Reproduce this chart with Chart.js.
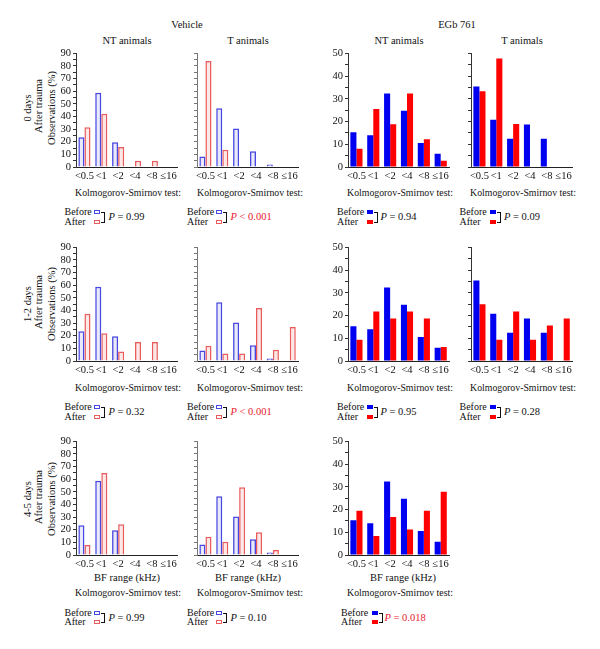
<!DOCTYPE html>
<html>
<head>
<meta charset="utf-8">
<script src="https://cdn.jsdelivr.net/npm/chart.js@4"></script>
<style>
  body { margin: 0; background: #fff; }
  #wrap { position: relative; width: 600px; height: 649px; overflow: hidden; font-family: "Liberation Serif", serif; color: #111; }
  .t { position: absolute; white-space: nowrap; font-size: 10.5px; line-height: 1; transform: translate(-50%, -50%); }
  .ks { font-size: 9.8px; }
  .v { transform: translate(-50%, -50%) rotate(-90deg); font-size: 10.5px; }
  .l { position: absolute; white-space: nowrap; font-size: 10px; line-height: 1; transform: translateY(-50%); }
  .box { position: absolute; width: 6px; height: 4px; box-sizing: border-box; }
  .brk { position: absolute; width: 3px; border: 1px solid #111; border-left: none; }
  canvas { position: absolute; }
</style>
</head>
<body>
<div id="wrap"></div>
<script>
// bins of best frequency
var bins = ['<0.5', '<1', '<2', '<4', '<8', '\u226416'];

// Vehicle, NT animals (% of observations)
var vehNtBefore  = [23.5, 58.8, 19.6, 0, 0, 0];
var vehNtAfter0  = [31.5, 42.2, 15.8, 5, 5, 0];
var vehNtAfter12 = [37.5, 22, 7.5, 15, 15, 0];
var vehNtAfter45 = [8, 65, 24.4, 0, 0, 0];

// Vehicle, T animals
var vehTBefore  = [8.3, 46.5, 30.5, 12.5, 2, 0];
var vehTAfter0  = [84, 13.7, 0, 0, 0, 0];
var vehTAfter12 = [12, 6, 6, 42, 9, 27];
var vehTAfter45 = [14.4, 10.5, 53.7, 18, 3.9, 0];

// EGb 761, NT animals
var egbNtBefore  = [15.3, 14, 32.3, 24.7, 10.5, 5.8];
var egbNtAfter0  = [8, 25.5, 18.8, 32.3, 12.2, 2.7];
var egbNtAfter12 = [9.3, 21.8, 18.7, 21.8, 18.7, 6.2];
var egbNtAfter45 = [19.5, 8.4, 16.7, 11.2, 19.5, 27.8];

// EGb 761, T animals
var egbTBefore  = [35.4, 20.8, 12.4, 18.7, 12.4, 0];
var egbTAfter0  = [33.3, 47.7, 18.9, 0, 0, 0];
var egbTAfter12 = [25, 9.3, 21.8, 9.3, 15.6, 18.7];

// Kolmogorov-Smirnov p values
var pRow0  = ['= 0.99', '< 0.001', '= 0.94', '= 0.09'];
var pRow12 = ['= 0.32', '< 0.001', '= 0.95', '= 0.28'];
var pRow45 = ['= 0.99', '= 0.10', '= 0.018'];

var wrap = document.getElementById('wrap');
var RED_TXT = '#e8202a';

function txt(s, x, y, cls, extra) {
    var d = document.createElement('div');
    d.className = cls || 't';
    d.innerHTML = s;
    d.style.left = x + 'px';
    d.style.top = y + 'px';
    if (extra) for (var k in extra) d.style[k] = extra[k];
    wrap.appendChild(d);
    return d;
}

var vehStyle = {
    before: { backgroundColor: 'rgba(215,215,250,0.55)', borderColor: '#4646e0', borderWidth: 1.5 },
    after:  { backgroundColor: 'rgba(252,222,222,0.7)', borderColor: '#e85c5c', borderWidth: 1.5 }
};
var egbStyle = {
    before: { backgroundColor: '#0000f0', borderColor: '#2020f5', borderWidth: 0 },
    after:  { backgroundColor: '#ff0000', borderColor: '#ff2020', borderWidth: 0 }
};

// axisX / topY = where the y axis and the top of the value range sit on the page
function panel(axisX, topY, before, after, style, ymax, labels, axisColor) {
    var yw = labels ? 24 : 6, padTop = 6, padR = 2, xh = 16, plotW = 102, plotH = 116;
    var c = document.createElement('canvas');
    c.width = yw + plotW + padR;
    c.height = padTop + plotH + xh;
    c.style.left = (axisX - yw) + 'px';
    c.style.top = (topY - padTop) + 'px';
    wrap.appendChild(c);
    new Chart(c.getContext('2d'), {
        type: 'bar',
        data: {
            labels: bins,
            datasets: [
                Object.assign({ data: before }, style.before),
                Object.assign({ data: after }, style.after)
            ]
        },
        options: {
            responsive: false,
            animation: false,
            events: [],
            layout: { padding: { top: padTop, right: padR, left: 0, bottom: 0 } },
            datasets: { bar: { barPercentage: 1, categoryPercentage: 0.72 } },
            plugins: { legend: { display: false }, tooltip: { enabled: false } },
            scales: {
                x: {
                    grid: { display: true, drawOnChartArea: false, drawTicks: false },
                    border: { color: '#222', width: 1 },
                    ticks: { color: '#111', padding: 3, maxRotation: 0, autoSkip: false,
                             font: { family: 'Liberation Serif', size: 10.5 } },
                    afterFit: function (s) { s.height = xh; }
                },
                y: {
                    min: 0, max: ymax,
                    grid: { drawOnChartArea: false, drawTicks: true, tickLength: 3, color: axisColor },
                    border: { color: axisColor, width: 1 },
                    ticks: {
                        stepSize: 5, padding: 2, color: '#111', autoSkip: false,
                        font: { family: 'Liberation Serif', size: 10.5 },
                        callback: function (v) { return (labels && v % 10 === 0) ? v : ''; }
                    },
                    afterFit: function (s) { s.width = yw; }
                }
            }
        }
    });
}

function legend(x, y, boxX, pX, style, pText, pColor) {
    txt('Before', x, y, 'l');
    txt('After', x, y + 9.5, 'l');
    [style.before, style.after].forEach(function (st, i) {
        var b = document.createElement('div');
        b.className = 'box';
        b.style.left = boxX + 'px';
        b.style.top = (y - 2 + i * 9.5) + 'px';
        if (st.borderWidth) {
            b.style.border = '1px solid ' + st.borderColor;
            b.style.background = '#fff';
        } else {
            b.style.background = st.backgroundColor;
        }
        wrap.appendChild(b);
    });
    var k = document.createElement('div');
    k.className = 'brk';
    k.style.left = (boxX + 7) + 'px';
    k.style.top = (y) + 'px';
    k.style.height = '8.5px';
    wrap.appendChild(k);
    txt('<i>P</i> ' + pText.replace('<', '&lt;'), pX, y + 5, 'l', { color: pColor, fontSize: '10.5px' });
}

// headings
txt('Vehicle', 187, 25);
txt('EGb 761', 457, 25);
txt('NT animals', 127, 41);
txt('T animals', 248, 41);
txt('NT animals', 399, 41);
txt('T animals', 522, 41);

var colX = [76, 197, 348, 471];
var ksX = [128, 250, 400, 523];
var rowTop = [50.7, 245, 439.3];

// row labels
var rowNames = ['0 days', '1-2 days', '4-5 days'];
var rowMid = [108, 304, 499];
rowNames.forEach(function (n, i) {
    txt(n, 28, rowMid[i], 't v');
    txt('After trauma', 39, rowMid[i] - 2, 't v');
    txt('Observations (%)', 52, rowMid[i], 't v');
});

// row 0 days
panel(colX[0], rowTop[0], vehNtBefore, vehNtAfter0, vehStyle, 90, true, '#333');
panel(colX[1], rowTop[0], vehTBefore, vehTAfter0, vehStyle, 90, false, '#777');
panel(colX[2], rowTop[0], egbNtBefore, egbNtAfter0, egbStyle, 50, true, '#333');
panel(colX[3], rowTop[0], egbTBefore, egbTAfter0, egbStyle, 50, false, '#333');

// row 1-2 days
panel(colX[0], rowTop[1], vehNtBefore, vehNtAfter12, vehStyle, 90, true, '#333');
panel(colX[1], rowTop[1], vehTBefore, vehTAfter12, vehStyle, 90, false, '#777');
panel(colX[2], rowTop[1], egbNtBefore, egbNtAfter12, egbStyle, 50, true, '#333');
panel(colX[3], rowTop[1], egbTBefore, egbTAfter12, egbStyle, 50, false, '#333');

// row 4-5 days
panel(colX[0], rowTop[2], vehNtBefore, vehNtAfter45, vehStyle, 90, true, '#333');
panel(colX[1], rowTop[2], vehTBefore, vehTAfter45, vehStyle, 90, false, '#777');
panel(colX[2], rowTop[2], egbNtBefore, egbNtAfter45, egbStyle, 50, true, '#333');

// x axis titles (bottom row)
txt('BF range (kHz)', 127, 578);
txt('BF range (kHz)', 248, 578);
txt('BF range (kHz)', 403, 578);

// K-S test lines
var ksY = [193, 388, 593];
[4, 4, 3].forEach(function (n, r) {
    for (var i = 0; i < n; i++) txt('Kolmogorov-Smirnov test:', ksX[i], ksY[r], 't ks');
});

// legends
var legX = [64.5, 187, 337, 459.5];
var legBox = [94, 216, 367, 489.5];
var legP = [108.5, 230.5, 380.5, 504];
var legY = [212.3, 407.3, 612.7];
var legStyles = [vehStyle, vehStyle, egbStyle, egbStyle];
var pRows = [pRow0, pRow12, pRow45];
pRows.forEach(function (ps, r) {
    ps.forEach(function (p, i) {
        var red = (p === '< 0.001' || p === '= 0.018');
        var lx = legX[i], bx = legBox[i], px = legP[i];
        if (r === 2 && i === 2) { lx = 341; bx = 371.5; px = 384.5; }
        legend(lx, legY[r], bx, px, legStyles[i], p, red ? RED_TXT : '#111');
    });
});
</script>
</body>
</html>
